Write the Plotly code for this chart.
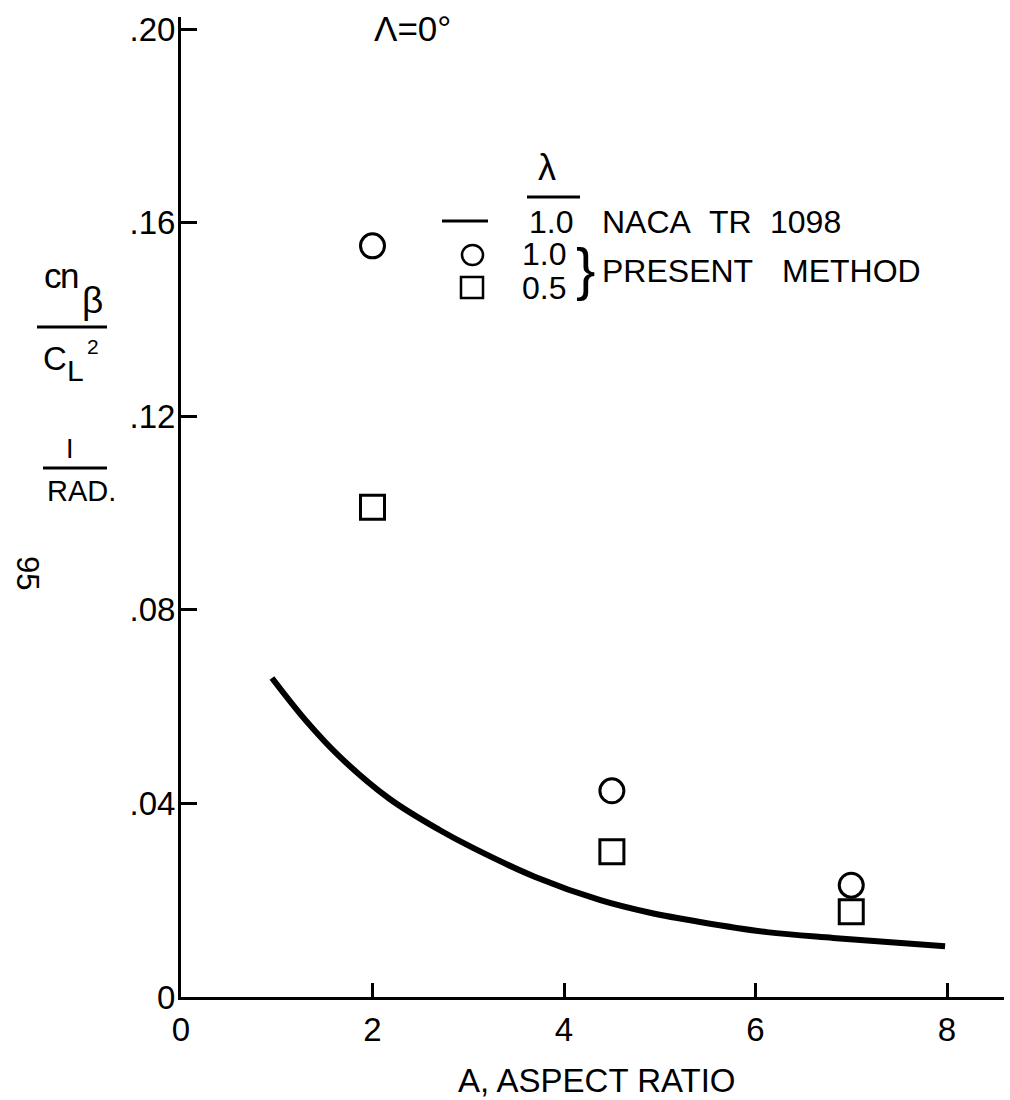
import plotly.graph_objects as go

# ---- data ----
A_curve = [0.95, 1.30, 1.66, 2.18, 2.70, 3.05, 3.70, 4.38, 4.90, 5.42, 6.12, 6.81, 7.98]
cnb_curve = [0.0659, 0.0572, 0.0496, 0.0409, 0.0345, 0.0308, 0.0248, 0.0200, 0.0174, 0.0155, 0.0134, 0.0122, 0.0105]

A_pts = [2.0, 4.5, 7.0]
cnb_taper10 = [0.1552, 0.0426, 0.0231]
cnb_taper05 = [0.1012, 0.0300, 0.0176]

x_ticks = [0, 2, 4, 6, 8]
x_ticktext = ["0", "2", "4", "6", "8"]
y_ticks = [0, 0.04, 0.08, 0.12, 0.16, 0.20]
y_ticktext = ["0", ".04", ".08", ".12", ".16", ".20"]

# ---- layout geometry (pixels) ----
W, H = 1010, 1100
ML, MR, MT, MB = 181, 6, 17, 103
PW = W - ML - MR
PH = H - MT - MB


def px(x):
    return (x - ML) / PW


def py(y):
    return (H - MB - y) / PH


FONT = "Liberation Sans"
BLACK = "black"

fig = go.Figure()

fig.add_trace(go.Scatter(
    x=A_curve, y=cnb_curve, mode="lines",
    line=dict(color=BLACK, width=6, shape="spline", smoothing=1.0),
    showlegend=False, hoverinfo="skip"))

fig.add_trace(go.Scatter(
    x=A_pts, y=cnb_taper10, mode="markers",
    marker=dict(symbol="circle-open", size=24, color=BLACK,
                line=dict(width=3, color=BLACK)),
    showlegend=False))

fig.add_trace(go.Scatter(
    x=A_pts, y=cnb_taper05, mode="markers",
    marker=dict(symbol="square-open", size=24, color=BLACK,
                line=dict(width=3, color=BLACK)),
    showlegend=False))

annotations = []


def txt(text, x, y, size, xanchor="center", yanchor="middle", angle=0):
    annotations.append(dict(
        text=text, x=px(x), y=py(y), xref="paper", yref="paper",
        xanchor=xanchor, yanchor=yanchor, showarrow=False, textangle=angle,
        font=dict(family=FONT, size=size, color=BLACK)))


# title
txt("Λ=0°", 412, 28, 35)
# x-axis title
txt("A, ASPECT RATIO", 597, 1080, 33)
# y-axis title pieces
txt("c", 53, 276, 35)
txt("n", 70, 276, 35)
txt("β", 92, 300, 37)
txt("C", 55, 359, 33)
txt("L", 75, 370, 30)
txt("2", 93, 346, 21)
txt("I", 70, 449, 27)
txt("RAD.", 81, 491, 29)
# page number
txt("95", 27, 573, 31, angle=90)

# legend texts
txt("λ", 547, 168, 36)
txt("1.0", 527, 222, 32, xanchor="left")
txt("NACA", 600, 222, 32, xanchor="left")
txt("TR", 707, 222, 32, xanchor="left")
txt("1098", 768, 222, 32, xanchor="left")
txt("1.0", 520, 254, 32, xanchor="left")
txt("0.5", 520, 288, 32, xanchor="left")
txt("}", 585, 268, 58)
txt("PRESENT", 600, 271, 32, xanchor="left")
txt("METHOD", 780, 271, 32, xanchor="left")

shapes = []


def hline(x0, x1, y, w):
    shapes.append(dict(type="line", xref="paper", yref="paper",
                       x0=px(x0), x1=px(x1), y0=py(y), y1=py(y),
                       line=dict(color=BLACK, width=w)))


hline(37, 107, 327, 3)   # fraction bar cnβ / CL²
hline(43, 107, 468, 3)   # fraction bar 1 / RAD.
hline(527, 580, 197, 3)  # underline of λ
hline(442, 488, 221, 3)  # legend line sample

# legend symbols
shapes.append(dict(type="circle", xref="paper", yref="paper",
                   x0=px(462), x1=px(483), y0=py(265), y1=py(245),
                   line=dict(color=BLACK, width=2.5)))
shapes.append(dict(type="rect", xref="paper", yref="paper",
                   x0=px(461), x1=px(483), y0=py(298), y1=py(277),
                   line=dict(color=BLACK, width=2.5)))

fig.update_layout(
    width=W, height=H,
    margin=dict(l=ML, r=MR, t=MT, b=MB),
    paper_bgcolor="white", plot_bgcolor="white",
    font=dict(family=FONT, size=30, color=BLACK),
    annotations=annotations, shapes=shapes,
    showlegend=False,
)

fig.update_xaxes(
    range=[0, PW / 95.75], showgrid=False, zeroline=False,
    showline=True, linewidth=3, linecolor=BLACK,
    ticks="inside", ticklen=14, tickwidth=2.5, tickcolor=BLACK,
    tickvals=x_ticks, ticktext=x_ticktext,
    tickfont=dict(family=FONT, size=33, color=BLACK),
    ticklabelstandoff=1,
)
fig.update_yaxes(
    range=[0, PH / 4840], showgrid=False, zeroline=False,
    showline=True, linewidth=3, linecolor=BLACK,
    ticks="inside", ticklen=16, tickwidth=2.5, tickcolor=BLACK,
    tickvals=y_ticks, ticktext=y_ticktext,
    tickfont=dict(family=FONT, size=33, color=BLACK),
    ticklabelstandoff=-4,
)

fig.write_html("out.html")
